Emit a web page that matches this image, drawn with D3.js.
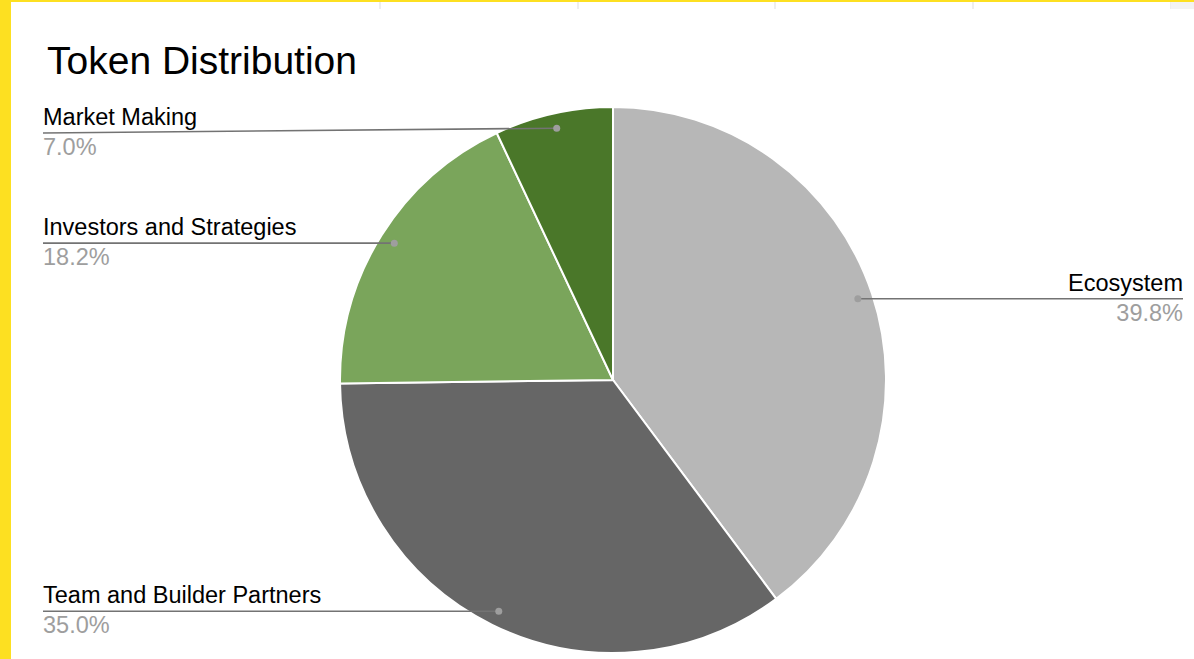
<!DOCTYPE html>
<html>
<head>
<meta charset="utf-8">
<script src="https://cdn.jsdelivr.net/npm/d3@7"></script>
<style>
  html, body { margin: 0; padding: 0; background: #fff; }
  svg { display: block; font-family: Arial, "Liberation Sans", sans-serif; }
</style>
</head>
<body>
<svg width="1194" height="659"></svg>
<script>
// chart data (percent of supply)
var categories = ["Ecosystem", "Team and Builder Partners", "Investors and Strategies", "Market Making"];
var values = [39.8, 35.0, 18.2, 7.0];
var colors = ["#b7b7b7", "#666666", "#7aa55b", "#4a7729"];
var title = "Token Distribution";

var svg = d3.select("svg"),
	width = +svg.attr("width"),
	height = +svg.attr("height");

// page frame: yellow edges + spreadsheet grid stubs
svg.append("rect").attr("x", 0).attr("y", 0).attr("width", width).attr("height", height).attr("fill", "#fff");
svg.append("rect").attr("x", 0).attr("y", 0).attr("width", 11).attr("height", height).attr("fill", "#fde021");
svg.append("rect").attr("x", 0).attr("y", 0).attr("width", width).attr("height", 2).attr("fill", "#fde021");
[380, 578, 775, 973, 1171].forEach(function(x){
	svg.append("line").attr("x1", x).attr("x2", x).attr("y1", 2).attr("y2", 9)
		.attr("stroke", "#ddd").attr("stroke-width", 1);
});
svg.append("rect").attr("x", 1171).attr("y", 2).attr("width", 23).attr("height", 7).attr("fill", "#f3f3f3");

svg.append("text")
	.attr("x", 47).attr("y", 74)
	.style("font-size", "39px")
	.attr("fill", "#000")
	.text(title);

var cx = 613, cy = 380, R = 273;
var g = svg.append("g").attr("transform", "translate(" + cx + "," + cy + ")");

var data = categories.map(function(c, i){ return {name: c, value: values[i], color: colors[i]}; });

var pie = d3.pie().sort(null).value(function(d){ return d.value; });
var arc = d3.arc().innerRadius(0).outerRadius(R);
var arcs = pie(data);

g.selectAll("path.slice")
	.data(arcs)
	.enter().append("path")
	.attr("class", "slice")
	.attr("d", arc)
	.attr("fill", function(d){ return d.data.color; })
	.attr("stroke", "#fff")
	.attr("stroke-width", 2);

// leader lines + labels
var dotR = R * 0.945;
var labelTop = 133; // labels stay under the title
var leftX = 43, rightX = 1183;

arcs.forEach(function(d){
	var a = (d.startAngle + d.endAngle) / 2;
	var px = cx + dotR * Math.sin(a),
		py = cy - dotR * Math.cos(a);
	var right = Math.sin(a) > 0;
	var ly = Math.max(py, labelTop);
	var ex = right ? rightX : leftX;

	svg.append("line")
		.attr("x1", px).attr("y1", py)
		.attr("x2", ex).attr("y2", ly)
		.attr("stroke", "#737373").attr("stroke-width", 1.6);
	svg.append("circle")
		.attr("cx", px).attr("cy", py).attr("r", 3.5)
		.attr("fill", "#9e9e9e");

	svg.append("text")
		.attr("x", ex).attr("y", ly - 8)
		.attr("text-anchor", right ? "end" : "start")
		.style("font-size", "23.5px")
		.attr("fill", "#000")
		.text(d.data.name);
	svg.append("text")
		.attr("x", ex).attr("y", ly + 22)
		.attr("text-anchor", right ? "end" : "start")
		.style("font-size", "23.5px")
		.attr("fill", "#9e9e9e")
		.text(d3.format(".1f")(d.data.value) + "%");
});
</script>
</body>
</html>
